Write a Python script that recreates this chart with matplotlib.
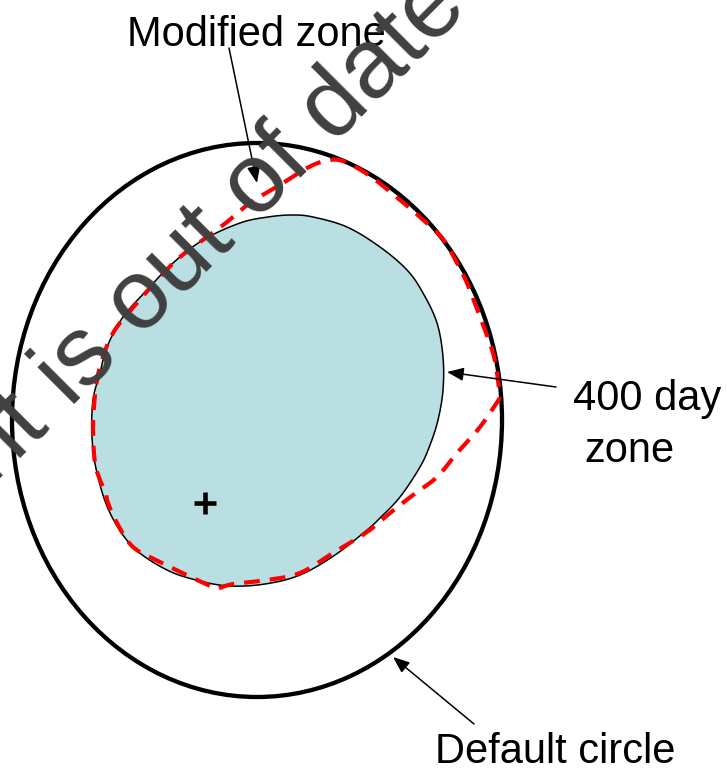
import numpy as np
import matplotlib
matplotlib.use("Agg")
import matplotlib.pyplot as plt
from matplotlib.patches import Ellipse, Polygon

plt.rcParams['font.family'] = ['Liberation Sans', 'DejaVu Sans']

# ---- data (pixel-space diagram coordinates) ----
circle_center = (257, 420)
circle_size = (490, 554)

blob_x = [292, 313, 347, 380, 407, 423, 437, 443, 443, 438, 430, 420, 400, 380, 367, 335, 300,
          265, 230, 200, 167, 133, 110, 97, 92, 93, 100, 107, 123, 147, 173, 203, 240, 268]
blob_y = [215, 217, 227, 247, 270, 293, 323, 357, 390, 420, 445, 467, 497, 518, 530, 555, 575,
          584, 586, 581, 570, 547, 513, 473, 437, 400, 373, 347, 317, 290, 263, 240, 223, 217]

# modified zone (red dashed) in three pieces
mod_a_x = [500, 480, 457, 437, 413, 390, 367, 333, 300, 267, 233, 217]
mod_a_y = [398, 427, 453, 477, 495, 513, 532, 553, 573, 580, 584, 589]
mod_b_x = [217, 208, 193, 160, 133, 117, 108, 106]
mod_b_y = [589, 585, 578, 562, 547, 523, 503, 493]
mod_c_x = [106, 100, 95, 93, 95, 100, 113, 137, 160, 180, 207, 227, 250, 283, 307, 325, 343,
           370, 400, 420, 443, 457, 467, 480, 493, 498, 500]
mod_c_y = [493, 480, 463, 430, 395, 367, 333, 303, 277, 257, 237, 222, 203, 183, 168, 161, 161,
           176, 200, 217, 239, 263, 283, 317, 353, 380, 398]

center_mark = (205, 503)

labels = ["Modified zone", "400 day", "zone", "Default circle"]
label_pos = [(127, 46), (573, 410), (584, 462), (435, 763)]
arrows = [((229, 48), (257, 183)), ((556, 387), (447, 372)), ((474, 724), (393, 657))]

watermark = "This document is out of date"
watermark_end = (470, 9)


def catmull(xs, ys, closed=False, n=24):
    P = np.column_stack([xs, ys]).astype(float)
    if closed:
        P = np.vstack([P[-1], P, P[0], P[1]])
    else:
        P = np.vstack([2 * P[0] - P[1], P, 2 * P[-1] - P[-2]])
    out = []
    t = np.linspace(0, 1, n, endpoint=False)[:, None]
    for i in range(1, len(P) - 2):
        p0, p1, p2, p3 = P[i - 1], P[i], P[i + 1], P[i + 2]
        out.append(0.5 * ((2 * p1) + (-p0 + p2) * t + (2 * p0 - 5 * p1 + 4 * p2 - p3) * t ** 2
                          + (-p0 + 3 * p1 - 3 * p2 + p3) * t ** 3))
    out.append(P[1][None, :] if closed else P[-2][None, :])
    return np.vstack(out)


fig = plt.figure(figsize=(7.27, 7.72), dpi=100)
ax = fig.add_axes([0, 0, 1, 1])
ax.set_xlim(0, 727)
ax.set_ylim(772, 0)
ax.axis('off')

# 400 day zone blob
blob = catmull(blob_x, blob_y, closed=True)
ax.add_patch(Polygon(blob, closed=True, facecolor='#b9dfe3', edgecolor='black', lw=1.1, zorder=1))

# default circle
ax.add_patch(Ellipse(circle_center, circle_size[0], circle_size[1], fill=False,
                     edgecolor='black', lw=3.1, zorder=2))

# modified zone
seg_a = catmull(mod_a_x, mod_a_y)
seg_b = catmull(mod_b_x, mod_b_y)
seg_c = catmull(mod_c_x, mod_c_y)
red = np.vstack([seg_a, seg_b[1:], seg_c[1:]])
ax.plot(red[:, 0], red[:, 1], color='#ff0000', lw=3.0, dashes=(3.8, 2.4),
        solid_capstyle='butt', dash_capstyle='butt', zorder=3)

# centre mark
ax.plot([center_mark[0]], [center_mark[1]], marker='+', ms=16, mew=3.3, color='black', zorder=4)

# labels
for txt, (x, y) in zip(labels, label_pos):
    ax.text(x, y, txt, fontsize=30, ha='left', va='baseline', color='black', zorder=5)

for (x0, y0), (x1, y1) in arrows:
    ax.annotate('', xy=(x1, y1), xytext=(x0, y0),
                arrowprops=dict(arrowstyle='-|>,head_length=0.5,head_width=0.2',
                                lw=1.1, color='black', mutation_scale=20,
                                shrinkA=0, shrinkB=0), zorder=5)

# watermark
ax.text(watermark_end[0], watermark_end[1], watermark, fontsize=71, color='#404040',
        rotation=45, rotation_mode='anchor', ha='right', va='baseline', zorder=6)

fig.savefig('out.png', dpi=100)
